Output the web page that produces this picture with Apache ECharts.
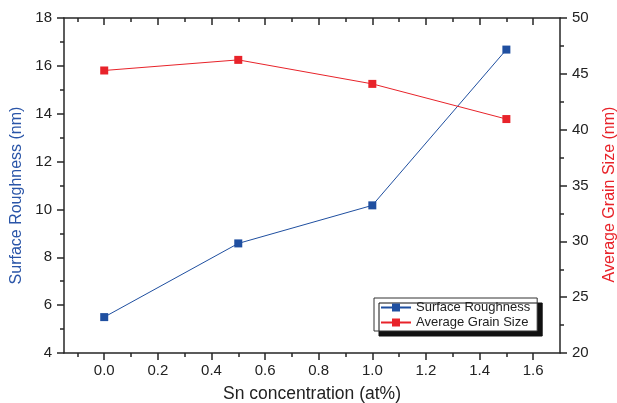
<!DOCTYPE html>
<html>
<head>
<meta charset="utf-8">
<script src="https://cdn.jsdelivr.net/npm/echarts@6/dist/echarts.min.js"></script>
<style>
  html, body { margin: 0; padding: 0; background: #fff; }
  #chart { width: 617px; height: 403px; }
</style>
</head>
<body>
<div id="chart"></div>
<script>
// Sn concentration (at%)
const snConc = [0.0, 0.5, 1.0, 1.5];
// Surface roughness (nm), left axis
const roughness = [5.5, 8.58, 10.17, 16.68];
// Average grain size (nm), right axis
const grainSize = [45.3, 46.25, 44.1, 40.95];

// x-axis tick positions
const xMajorTicks = [0.0, 0.2, 0.4, 0.6, 0.8, 1.0, 1.2, 1.4, 1.6];
const xMinorTicks = [-0.1, 0.1, 0.3, 0.5, 0.7, 0.9, 1.1, 1.3, 1.5];

const BLUE = '#1f4fa0';
const RED = '#e8232a';
const AXIS = '#262626';
const FONT = 'Liberation Sans, Arial, sans-serif';

const X_MIN = -0.15, X_MAX = 1.70;

function pairs(xs, ys) { return xs.map((x, i) => [x, ys[i]]); }

function xAxisBase(pos) {
  return {
    type: 'value', position: pos, min: X_MIN, max: X_MAX,
    splitLine: { show: false },
    axisLine: { show: true, onZero: false, lineStyle: { color: AXIS, width: 1.5 } },
    axisLabel: { show: false },
    axisTick: { show: false }
  };
}

const bottomMajor = xAxisBase('bottom');
bottomMajor.axisTick = { show: true, customValues: xMajorTicks, length: 7, lineStyle: { color: AXIS, width: 1.5 } };
bottomMajor.axisLabel = {
  show: true, customValues: xMajorTicks, margin: 10,
  color: '#222', fontSize: 15, fontFamily: FONT,
  formatter: v => Number(v).toFixed(1)
};
bottomMajor.name = 'Sn concentration (at%)';
bottomMajor.nameLocation = 'middle';
bottomMajor.nameGap = 32;
bottomMajor.nameTextStyle = { color: '#222', fontSize: 17.5, fontFamily: FONT };

const bottomMinor = xAxisBase('bottom');
bottomMinor.axisLine = { show: false, onZero: false };
bottomMinor.axisTick = { show: true, customValues: xMinorTicks, length: 4, lineStyle: { color: AXIS, width: 1.5 } };

const topMajor = xAxisBase('top');
topMajor.axisTick = { show: true, inside: true, customValues: xMajorTicks, length: 7, lineStyle: { color: AXIS, width: 1.5 } };

const topMinor = xAxisBase('top');
topMinor.axisLine = { show: false, onZero: false };
topMinor.axisTick = { show: true, inside: true, customValues: xMinorTicks, length: 4, lineStyle: { color: AXIS, width: 1.5 } };

const chart = echarts.init(document.getElementById('chart'), null, { renderer: 'canvas' });

chart.setOption({
  animation: false,
  backgroundColor: '#fff',
  textStyle: { fontFamily: FONT },
  grid: { left: 64, right: 57, top: 18, bottom: 50, containLabel: false, outerBoundsMode: 'none' },
  xAxis: [bottomMajor, bottomMinor, topMajor, topMinor],
  yAxis: [
    {
      type: 'value', position: 'left', min: 4, max: 18, interval: 2,
      splitLine: { show: false },
      axisLine: { show: true, onZero: false, lineStyle: { color: AXIS, width: 1.5 } },
      axisTick: { show: true, length: 7, lineStyle: { color: AXIS, width: 1.5 } },
      minorTick: { show: true, splitNumber: 2, length: 4, lineStyle: { color: AXIS, width: 1.5 } },
      axisLabel: { color: '#222', fontSize: 15, fontFamily: FONT, margin: 12 },
      name: 'Surface Roughness (nm)', nameLocation: 'middle', nameGap: 37, nameRotate: 90,
      nameTextStyle: { color: '#2a55a8', fontSize: 16, fontFamily: FONT, padding: [0, 20, 0, 0] }
    },
    {
      type: 'value', position: 'right', min: 20, max: 50, interval: 5,
      splitLine: { show: false },
      axisLine: { show: true, onZero: false, lineStyle: { color: AXIS, width: 1.5 } },
      axisTick: { show: true, length: 7, lineStyle: { color: AXIS, width: 1.5 } },
      minorTick: { show: true, splitNumber: 2, length: 4, lineStyle: { color: AXIS, width: 1.5 } },
      axisLabel: { color: '#222', fontSize: 15, fontFamily: FONT, margin: 12 },
      name: 'Average Grain Size (nm)', nameLocation: 'middle', nameGap: 42, nameRotate: 90,
      nameTextStyle: { color: RED, fontSize: 16, fontFamily: FONT, padding: [0, 18, 0, 0] }
    }
  ],
  legend: {
    orient: 'vertical',
    left: 374, top: 298,
    padding: [3, 7, 2, 6],
    itemGap: 2,
    itemWidth: 30, itemHeight: 10,
    backgroundColor: '#fff',
    borderColor: '#333', borderWidth: 1,
    shadowColor: '#111', shadowBlur: 0, shadowOffsetX: 5, shadowOffsetY: 5,
    textStyle: { color: '#222', fontSize: 13, lineHeight: 13, fontFamily: FONT },
    data: ['Surface Roughness', 'Average Grain Size']
  },
  series: [
    {
      name: 'Surface Roughness', type: 'line',
      xAxisIndex: 0, yAxisIndex: 0,
      data: pairs(snConc, roughness),
      symbol: 'rect', symbolSize: 8,
      lineStyle: { color: BLUE, width: 1 },
      itemStyle: { color: BLUE },
      z: 3
    },
    {
      name: 'Average Grain Size', type: 'line',
      xAxisIndex: 0, yAxisIndex: 1,
      data: pairs(snConc, grainSize),
      symbol: 'rect', symbolSize: 8,
      lineStyle: { color: RED, width: 1 },
      itemStyle: { color: RED },
      z: 3
    }
  ]
});
</script>
</body>
</html>
